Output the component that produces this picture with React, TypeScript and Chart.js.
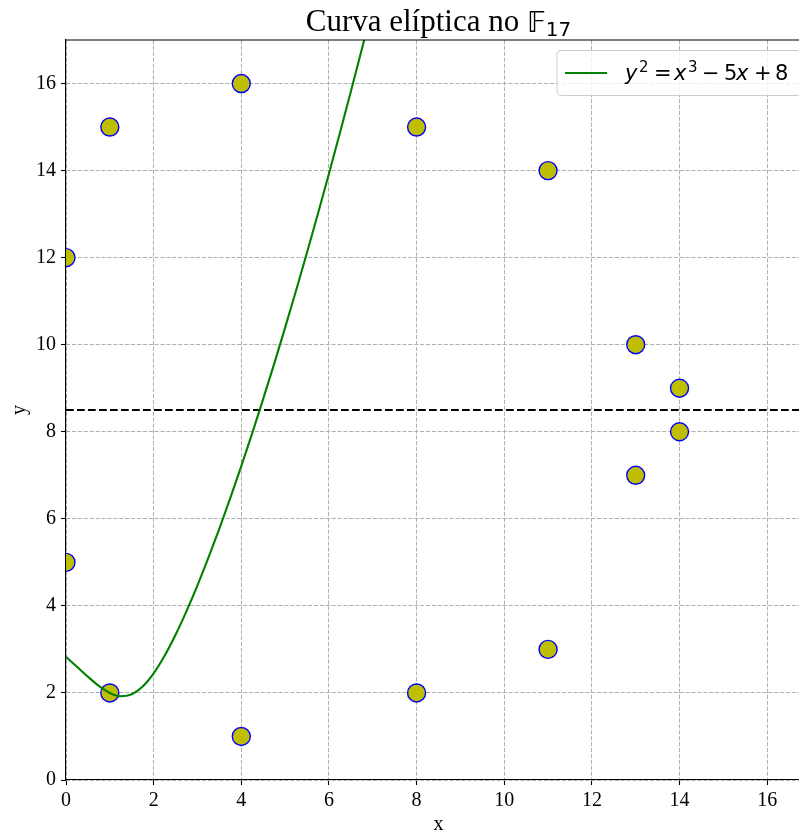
import { useEffect, useRef } from 'react';
import { Chart, registerables } from 'chart.js';

Chart.register(...registerables);

// Points (x, y) of the curve over the field F_17
const fieldX = [0, 0, 1, 1, 4, 4, 8, 8, 11, 11, 13, 13, 14, 14];
const fieldY = [5, 12, 2, 15, 1, 16, 2, 15, 3, 14, 7, 10, 8, 9];

// Real branch y = sqrt(x^3 - 5x + 8), sampled values
const curveX = [
  0, 0.25, 0.5, 0.75, 1, 1.25, 1.5, 1.75, 2, 2.25, 2.5, 2.75, 3, 3.25, 3.5,
  3.75, 4, 4.25, 4.5, 4.75, 5, 5.25, 5.5, 5.75, 6, 6.25, 6.5, 6.75, 7,
];
const curveY = [
  2.828, 2.601, 2.372, 2.161, 2.0, 1.924, 1.969, 2.147, 2.449, 2.853, 3.335,
  3.879, 4.472, 5.107, 5.777, 6.48, 7.211, 7.97, 8.754, 9.561, 10.392, 11.245,
  12.119, 13.014, 13.928, 14.862, 15.815, 16.787, 17.776,
];

// Horizontal symmetry line y = p / 2
const symmetryY = 8.5;

const xTicks = [0, 2, 4, 6, 8, 10, 12, 14, 16];
const yTicks = [0, 2, 4, 6, 8, 10, 12, 14, 16];
const xLimits = [0, 17];
const yLimits = [0, 17];

const titleText = 'Curva elíptica no ';
const fieldSymbol = '𝔽';
const fieldOrder = '17';
const xLabel = 'x';
const yLabel = 'y';

const SERIF = '"Liberation Serif", "Times New Roman", serif';
const SANS = '"DejaVu Sans", sans-serif';

// Legend equation pieces: text, italic, superscript, x offset from text start
const legendPieces: [string, boolean, boolean, number][] = [
  ['y', true, false, 0],
  ['2', false, true, 14],
  ['=', false, false, 29],
  ['x', true, false, 49],
  ['3', false, true, 63],
  ['−', false, false, 77],
  ['5', false, false, 99],
  ['x', true, false, 111],
  ['+', false, false, 129],
  ['8', false, false, 150],
];

const framePlugin = {
  id: 'frame',
  afterDraw(chart: Chart) {
    const { ctx, chartArea } = chart;
    const { left, right, top, bottom } = chartArea;
    ctx.save();

    // top and right spines
    ctx.strokeStyle = '#000';
    ctx.lineWidth = 1.1;
    ctx.beginPath();
    ctx.moveTo(left, top);
    ctx.lineTo(right, top);
    ctx.lineTo(right, bottom);
    ctx.stroke();

    // title
    const cx = (left + right) / 2;
    ctx.fillStyle = '#000';
    ctx.textBaseline = 'alphabetic';
    ctx.textAlign = 'left';
    const fMain = `31px ${SERIF}`;
    const fSym = `italic 28px ${SANS}`;
    const fSub = `20px ${SANS}`;
    ctx.font = fMain;
    const w1 = ctx.measureText(titleText).width;
    ctx.font = fSym;
    const w2 = ctx.measureText(fieldSymbol).width;
    ctx.font = fSub;
    const w3 = ctx.measureText(fieldOrder).width;
    let tx = cx - (w1 + w2 + w3) / 2;
    const tBase = 31;
    ctx.font = fMain;
    ctx.fillText(titleText, tx, tBase);
    tx += w1;
    ctx.font = fSym;
    ctx.fillText(fieldSymbol, tx, tBase + 1);
    tx += w2;
    ctx.font = fSub;
    ctx.fillText(fieldOrder, tx, tBase + 5);

    // axis labels
    ctx.font = `20px ${SERIF}`;
    ctx.textAlign = 'center';
    ctx.fillText(xLabel, cx, 830);
    ctx.save();
    ctx.translate(25, (top + bottom) / 2);
    ctx.rotate(-Math.PI / 2);
    ctx.fillText(yLabel, 0, 0);
    ctx.restore();

    // legend
    const lx = 557;
    const ly = 50.5;
    const lw = 244;
    const lh = 45;
    ctx.beginPath();
    ctx.roundRect(lx, ly, lw, lh, 4);
    ctx.fillStyle = 'rgba(255,255,255,0.8)';
    ctx.fill();
    ctx.strokeStyle = '#cccccc';
    ctx.lineWidth = 1;
    ctx.stroke();

    ctx.strokeStyle = '#008000';
    ctx.lineWidth = 2.1;
    ctx.beginPath();
    ctx.moveTo(565, 73);
    ctx.lineTo(607, 73);
    ctx.stroke();

    ctx.fillStyle = '#000';
    ctx.textAlign = 'left';
    const textX = 625;
    const base = 80;
    for (const [s, italic, sup, dx] of legendPieces) {
      const size = sup ? 15 : 21;
      ctx.font = `${italic ? 'italic ' : ''}${size}px ${SANS}`;
      ctx.fillText(s, textX + dx, sup ? base - 8 : base);
    }

    ctx.restore();
  },
};

export default function App() {
  const ref = useRef<HTMLCanvasElement | null>(null);

  useEffect(() => {
    if (!ref.current) return;
    const tickFont = { family: SERIF, size: 20 };
    const grid = {
      color: '#b0b0b0',
      lineWidth: 1,
      drawTicks: true,
      tickLength: 5,
      tickColor: '#000',
      tickWidth: 1.1,
      tickBorderDash: [],
    };
    const border = { display: true, color: '#000', width: 1.1, dash: [4.1, 1.8] };

    const chart = new Chart(ref.current, {
      type: 'scatter',
      data: {
        datasets: [
          {
            type: 'line',
            data: curveX.map((x, i) => ({ x, y: curveY[i] })),
            borderColor: '#008000',
            borderWidth: 2.1,
            pointRadius: 0,
            cubicInterpolationMode: 'monotone',
            fill: false,
            clip: 0,
          } as any,
          {
            type: 'line',
            data: [
              { x: xLimits[0], y: symmetryY },
              { x: xLimits[1], y: symmetryY },
            ],
            borderColor: '#000',
            borderWidth: 2.1,
            borderDash: [7.7, 3.3],
            pointRadius: 0,
            fill: false,
            clip: 0,
          } as any,
          {
            type: 'scatter',
            data: fieldX.map((x, i) => ({ x, y: fieldY[i] })),
            backgroundColor: '#bfbf00',
            borderColor: '#0000ff',
            borderWidth: 1.4,
            pointRadius: 9,
            clip: 0,
          } as any,
        ],
      },
      options: {
        animation: false,
        responsive: false,
        maintainAspectRatio: false,
        devicePixelRatio: 1,
        layout: {
          autoPadding: false,
          padding: { top: 40, left: 0, right: 0, bottom: 0 },
        },
        plugins: {
          legend: { display: false },
          tooltip: { enabled: false },
          title: { display: false },
        },
        scales: {
          x: {
            type: 'linear',
            min: xLimits[0],
            max: xLimits[1],
            afterBuildTicks: (s: any) => {
              s.ticks = xTicks.map((v) => ({ value: v }));
            },
            afterFit: (s: any) => {
              s.height = 52;
              s.paddingRight = 0;
            },
            grid,
            border,
            ticks: { font: tickFont, color: '#000', padding: 4, maxRotation: 0 },
          },
          y: {
            type: 'linear',
            min: yLimits[0],
            max: yLimits[1],
            afterBuildTicks: (s: any) => {
              s.ticks = yTicks.map((v) => ({ value: v }));
            },
            afterFit: (s: any) => {
              s.width = 66;
            },
            grid,
            border,
            ticks: { font: tickFont, color: '#000', padding: 5 },
          },
        },
      } as any,
      plugins: [framePlugin],
    });
    return () => chart.destroy();
  }, []);

  return (
    <div
      style={{
        position: 'fixed',
        left: 0,
        top: 0,
        width: 799,
        height: 832,
        overflow: 'hidden',
        background: '#fff',
      }}
    >
      <div style={{ width: 811, height: 832 }}>
        <canvas
          ref={ref}
          width={811}
          height={832}
          style={{ display: 'block', width: 811, height: 832 }}
        />
      </div>
    </div>
  );
}
